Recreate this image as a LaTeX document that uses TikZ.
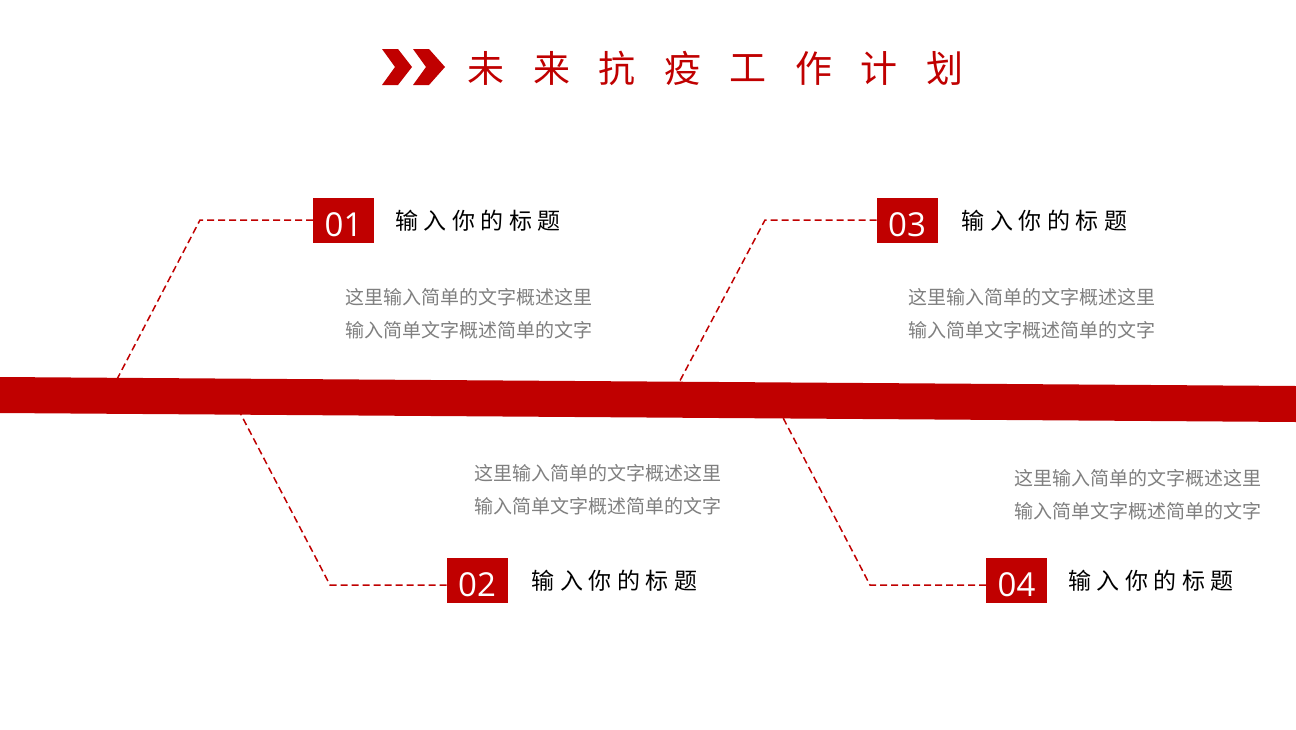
\documentclass[tikz,border=0pt]{standalone}
\usepackage{fontspec}
\setmainfont{Open Sans}
\newfontfamily\cjk{Noto Sans CJK SC}
\usetikzlibrary{positioning}
\definecolor{darkred}{HTML}{C00000}
\definecolor{textgray}{HTML}{7F7F7F}

\begin{document}
\begin{tikzpicture}[% styles used in image code
        x = 1pt, y = -1pt,
numbox/.style = {fill=darkred, text=white,
              minimum width=61pt, minimum height=45pt,
              inner sep=0pt, outer sep=0pt, text height=33pt,
              font=\fontsize{33}{33}\selectfont},
heading/.style = {inner sep=0pt, anchor=west,
              font=\cjk\fontsize{23}{23}\selectfont\addfontfeature{LetterSpace=24}},
desc/.style = {anchor=north west, inner sep=0pt, text=textgray, align=left,
              font=\cjk\fontsize{19}{33.5}\selectfont},
link/.style = {draw=darkred, line width=1.5pt, dash pattern=on 7pt off 4pt}
                        ]
	% page
	\fill[white] (0,0) rectangle (1296,729);
	\useasboundingbox (0,0) rectangle (1296,729);

	% title
	\fill[darkred] (382,49) -- (398,49) -- (412,67) -- (398,85) -- (382,85) -- (395,67) -- cycle;
	\fill[darkred] (413,49) -- (429,49) -- (445,67) -- (429,85) -- (413,85) -- (426,67) -- cycle;
	\foreach \c [count=\i from 0] in {未,来,抗,疫,工,作,计,划}
		\node[text=darkred, inner sep=0pt, font=\cjk\fontsize{37}{37}\selectfont]
			(title\i) at (486+65.5*\i,68) {\c};

	% number boxes
	\node[numbox] (n1) at (343.5,220.5) {01};
	\node[numbox] (n2) at (477,580.5) {02};
	\node[numbox] (n3) at (907,220.5) {03};
	\node[numbox] (n4) at (1016.5,580.5) {04};

	% headings
	\node[heading, right=21pt of n1] (h1) {输入你的标题};
	\node[heading, right=24pt of n2] (h2) {输入你的标题};
	\node[heading, right=24pt of n3] (h3) {输入你的标题};
	\node[heading, right=21pt of n4] (h4) {输入你的标题};

	% descriptions
	\node[desc] (d1) at (345,288) {这里输入简单的文字概述这里\\输入简单文字概述简单的文字};
	\node[desc] (d2) at (474,464) {这里输入简单的文字概述这里\\输入简单文字概述简单的文字};
	\node[desc] (d3) at (908,288) {这里输入简单的文字概述这里\\输入简单文字概述简单的文字};
	\node[desc] (d4) at (1014,469) {这里输入简单的文字概述这里\\输入简单文字概述简单的文字};

	% dashed links
	\coordinate (c1) at (200,220);
	\coordinate (e1) at (114,385);
	\coordinate (c2) at (330,585);
	\coordinate (e2) at (236,405);
	\coordinate (c3) at (765,220);
	\coordinate (e3) at (674,392);
	\coordinate (c4) at (870,585);
	\coordinate (e4) at (779,410);
	\draw[link] (n1.west |- c1) -- (c1) -- (e1);
	\draw[link] (n2.west |- c2) -- (c2) -- (e2);
	\draw[link] (n3.west |- c3) -- (c3) -- (e3);
	\draw[link] (n4.west |- c4) -- (c4) -- (e4);

	% band
	\fill[darkred] (0,377) -- (1296,386) -- (1296,422) -- (0,413) -- cycle;
\end{tikzpicture}
\end{document}
